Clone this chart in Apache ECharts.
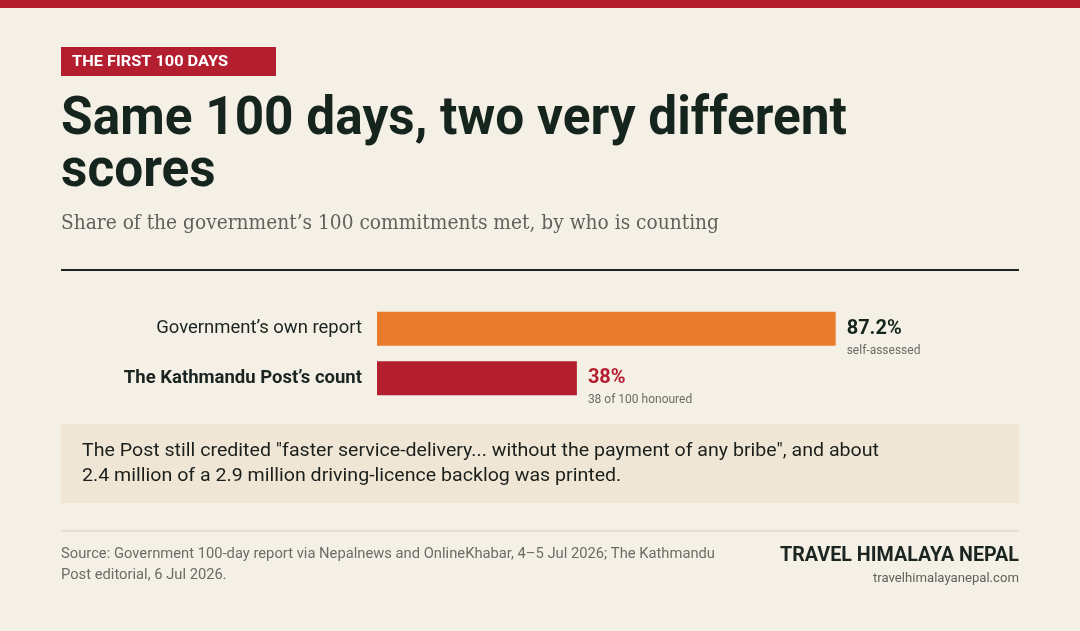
<!DOCTYPE html>
<html><head><meta charset="utf-8">
<script src="https://cdn.jsdelivr.net/npm/echarts@6/dist/echarts.min.js"></script>
<style>html,body{margin:0;padding:0;background:#f5f0e6}#c{width:1080px;height:631px}</style>
</head><body><div id="c"></div>
<script>
// ---------- data ----------
const categories = ["Government\u2019s own report", "The Kathmandu Post\u2019s count"];
const values = [87.2, 38];
const valueLabels = ["87.2%", "38%"];
const notes = ["self-assessed", "38 of 100 honoured"];
const xMin = 0;
const xMax = 100;

const tagText = "THE FIRST 100 DAYS";
const titleLines = ["Same 100 days, two very different", "scores"];
const subtitleText = "Share of the government\u2019s 100 commitments met, by who is counting";
const calloutLines = [
  "The Post still credited \"faster service-delivery... without the payment of any bribe\", and about",
  "2.4 million of a 2.9 million driving-licence backlog was printed."
];
const sourceLines = [
  "Source: Government 100-day report via Nepalnews and OnlineKhabar, 4\u20135 Jul 2026; The Kathmandu",
  "Post editorial, 6 Jul 2026."
];
const brandText = "TRAVEL HIMALAYA NEPAL";
const urlText = "travelhimalayanepal.com";

// ---------- style ----------
const BG = '#f5f0e6', RED = '#b41f30', ORANGE = '#e87b2c', DARK = '#15241d';
const SANS = 'Roboto', SERIF = 'DejaVu Serif';
const barColors = [ORANGE, RED];
const valueColors = [DARK, RED];

const ctx = document.createElement('canvas').getContext('2d');
function mw(text, size, weight, family) {
  ctx.font = weight + ' ' + size + 'px ' + family;
  return ctx.measureText(text).width;
}
function txt(text, x, y, size, weight, family, color, target, align, scaleOverride) {
  const s = scaleOverride || (target ? target / mw(text, size, weight, family) : 1);
  return {
    type: 'text', x: x, y: y, scaleX: s, silent: true,
    style: { text: text, fontSize: size, fontWeight: weight, fontFamily: family, fill: color,
      align: align || 'left', verticalAlign: 'middle' }
  };
}
function fitSize(text, weight, family, target) { return target / mw(text, 1, weight, family) ; }

const calloutScale = 797 / mw(calloutLines[0], 18.5, 'normal', SANS);
const sourceScale = 654 / mw(sourceLines[0], 14, 'normal', SANS);
const titleScale = 786 / mw(titleLines[0], 54, 'bold', SANS);

const labSizeN = Math.min(18.5, fitSize(categories[0], 'normal', SANS, 206));
const labSizeB = Math.min(18.5, fitSize(categories[1], 'bold', SANS, 244));

const graphics = [
  { type: 'rect', shape: { x: 0, y: 0, width: 1080, height: 8 }, style: { fill: RED }, silent: true },
  { type: 'rect', shape: { x: 61, y: 47, width: 215, height: 29 }, style: { fill: RED }, silent: true },
  txt(tagText, 72, 62, 14, 'bold', SANS, '#ffffff', 156),
  txt(titleLines[0], 61, 120, 54, 'bold', SANS, DARK, null, 'left', titleScale),
  txt(titleLines[1], 61, 172, 54, 'bold', SANS, DARK, null, 'left', titleScale),
  txt(subtitleText, 61, 224, 20, 'normal', SERIF, '#5f615c', 658),
  { type: 'line', shape: { x1: 61, y1: 270, x2: 1019, y2: 270 }, style: { stroke: '#1a2420', lineWidth: 2 }, silent: true },
  { type: 'rect', shape: { x: 61, y: 424, width: 958, height: 79 }, style: { fill: '#efe6d5' }, silent: true },
  txt(calloutLines[0], 82, 451, 18.5, 'normal', SANS, '#1b1f1c', null, 'left', calloutScale),
  txt(calloutLines[1], 82, 476, 18.5, 'normal', SANS, '#1b1f1c', null, 'left', calloutScale),
  { type: 'line', shape: { x1: 61, y1: 531, x2: 1019, y2: 531 }, style: { stroke: '#e2d8c7', lineWidth: 1.5 }, silent: true },
  txt(sourceLines[0], 61, 554, 14, 'normal', SANS, '#6b6c67', null, 'left', sourceScale),
  txt(sourceLines[1], 61, 575, 14, 'normal', SANS, '#6b6c67', null, 'left', sourceScale),
  txt(brandText, 1019, 556, 20, 'bold', SANS, '#1a2420', 239, 'right'),
  txt(urlText, 1019, 579, 13.5, 'normal', SANS, '#5f615c', 146, 'right')
];

const chart = echarts.init(document.getElementById('c'), null, { renderer: 'canvas' });
chart.setOption({
  backgroundColor: BG,
  animation: false,
  graphic: graphics,
  grid: { left: 377, width: 526, top: 304, height: 99, containLabel: false, outerBoundsMode: 'none' },
  xAxis: { type: 'value', min: xMin, max: xMax, show: false },
  yAxis: {
    type: 'category', data: categories, inverse: true,
    axisLine: { show: false }, axisTick: { show: false }, splitLine: { show: false },
    axisLabel: {
      margin: 15,
      formatter: function (v, i) { return i === 1 ? '{b|' + v + '}' : '{n|' + v + '}'; },
      rich: {
        n: { fontSize: labSizeN, fontFamily: SANS, color: '#1a2420' },
        b: { fontSize: labSizeB, fontFamily: SANS, fontWeight: 'bold', color: '#1a2420' }
      }
    }
  },
  series: [{
    type: 'bar', barWidth: 34,
    data: values.map(function (v, i) {
      return {
        value: v,
        itemStyle: { color: barColors[i] },
        label: {
          show: true, position: 'right', distance: 11, offset: [0, 10],
          formatter: '{v|' + valueLabels[i] + '}\n{s|' + notes[i] + '}',
          rich: {
            v: { fontSize: 20, fontWeight: 'bold', fontFamily: SANS, color: valueColors[i], lineHeight: 24, align: 'left' },
            s: { fontSize: 12, fontFamily: SANS, color: '#6b6c67', lineHeight: 20, align: 'left' }
          }
        }
      };
    })
  }]
});
</script></body></html>
